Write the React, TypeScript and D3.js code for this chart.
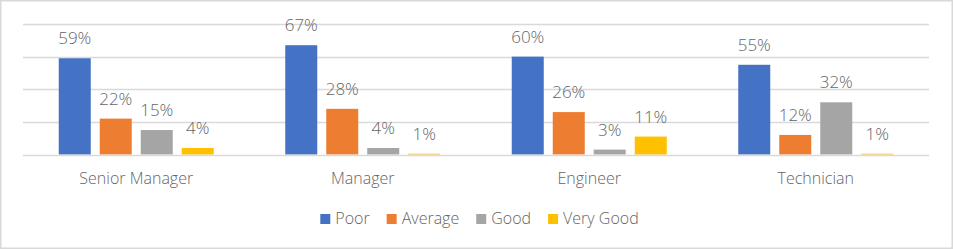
import React, { useEffect, useRef } from "react";
import * as d3 from "d3";

const categories = ["Senior Manager", "Manager", "Engineer", "Technician"];
const seriesNames = ["Poor", "Average", "Good", "Very Good"];
const poor = [0.59, 0.67, 0.6, 0.55];
const average = [0.22, 0.28, 0.26, 0.12];
const good = [0.15, 0.04, 0.03, 0.32];
const veryGood = [0.04, 0.005, 0.11, 0.005];
const yTicks = [0.2, 0.4, 0.6, 0.8];
const colors = ["#4472C4", "#ED7D31", "#A5A5A5", "#FFC000"];

const W = 953;
const H = 249;
const FONT = "'Open Sans', 'Segoe UI', sans-serif";
const TEXT = "#656565";

export default function App() {
  const ref = useRef<SVGSVGElement | null>(null);

  useEffect(() => {
    const svg = d3.select(ref.current);
    svg.selectAll("*").remove();
    const series = [poor, average, good, veryGood];
    const m = { left: 23, right: 24, top: 24, bottom: 94 };
    const innerW = W - m.left - m.right;
    const x0 = d3.scaleBand<string>().domain(categories).range([m.left, m.left + innerW]).paddingInner(0).paddingOuter(0);
    const groupW = 155;
    const x1 = d3.scaleBand<string>().domain(seriesNames).range([0, groupW]).paddingInner(9 / 41);
    const y = d3.scaleLinear().domain([0, 0.8]).range([H - m.bottom - 0.5, m.top]);
    const fmt = d3.format(".0%");

    svg.append("rect").attr("x", 0.75).attr("y", 0.75).attr("width", W - 1.5).attr("height", H - 1.5)
      .attr("fill", "#fff").attr("stroke", "#d9d9d9").attr("stroke-width", 1.5);

    svg.append("g").selectAll("line").data(yTicks).join("line")
      .attr("x1", m.left).attr("x2", m.left + innerW)
      .attr("y1", (d) => Math.round(y(d)) + 0.5).attr("y2", (d) => Math.round(y(d)) + 0.5)
      .attr("stroke", "#d9d9d9").attr("stroke-width", 1.3);

    const groups = svg.append("g").selectAll("g").data(categories).join("g")
      .attr("transform", (c) => `translate(${x0(c)! + x0.bandwidth() / 2 - groupW / 2},0)`);

    groups.each(function (c, ci) {
      const g = d3.select(this);
      seriesNames.forEach((s, si) => {
        const v = series[si][ci];
        g.append("rect").attr("x", x1(s)!).attr("width", x1.bandwidth())
          .attr("y", y(v)).attr("height", y(0) - y(v)).attr("fill", colors[si]);
        g.append("text").attr("x", x1(s)! + x1.bandwidth() / 2).attr("y", y(v) - 14)
          .attr("text-anchor", "middle").attr("font-family", FONT).attr("font-weight", 300)
          .attr("font-size", 17).attr("fill", TEXT).text(fmt(v));
      });
    });

    // category axis line drawn over the bar bases
    svg.append("line")
      .attr("x1", m.left).attr("x2", m.left + innerW)
      .attr("y1", Math.round(y(0)) + 0.5).attr("y2", Math.round(y(0)) + 0.5)
      .attr("stroke", "#d9d9d9").attr("stroke-width", 1.6);

    svg.append("g").selectAll("text").data(categories).join("text")
      .attr("x", (c) => x0(c)! + x0.bandwidth() / 2).attr("y", 184)
      .attr("text-anchor", "middle").attr("font-family", FONT).attr("font-weight", 300)
      .attr("font-size", 16).attr("fill", TEXT).text((c) => c);

    const leg = svg.append("g");
    let cx = 0;
    seriesNames.forEach((s, si) => {
      leg.append("rect").attr("x", cx).attr("y", 214).attr("width", 10).attr("height", 10).attr("fill", colors[si]);
      const t = leg.append("text").attr("x", cx + 15).attr("y", 224).attr("font-family", FONT).attr("font-weight", 300)
        .attr("font-size", 16).attr("fill", TEXT).text(s);
      const tw = (t.node() as SVGTextElement).getComputedTextLength();
      cx += 15 + tw + 17;
    });
    const legW = cx - 17;
    leg.attr("transform", `translate(${(322 + 637) / 2 - legW / 2},0)`);
  }, []);

  return (
    <svg ref={ref} width={W} height={H} style={{ position: "absolute", left: 0, top: 0, display: "block" }} />
  );
}
